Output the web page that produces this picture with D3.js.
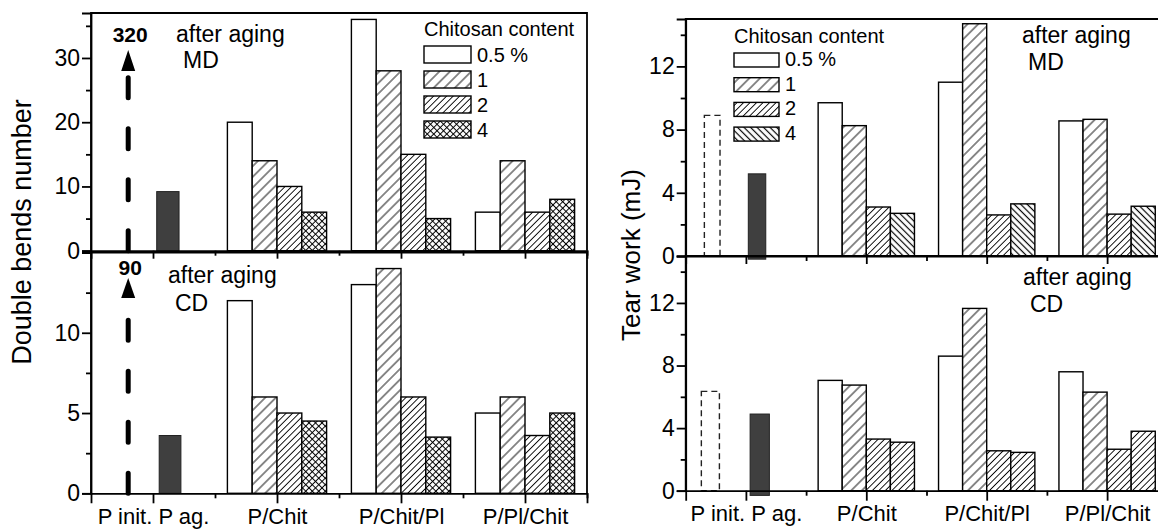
<!DOCTYPE html>
<html>
<head>
<meta charset="utf-8">
<script src="https://cdn.jsdelivr.net/npm/d3@7"></script>
<style>
  body { margin: 0; background: #fff; }
  svg { display: block; font-family: "Liberation Sans", Arial, sans-serif; }
</style>
</head>
<body>
<div id="chart"></div>
<script>
// categories
const groups = ["P/Chit", "P/Chit/Pl", "P/Pl/Chit"];
const contents = ["0.5 %", "1", "2", "4"];
const xTickLabels = ["P init. P ag.", "P/Chit", "P/Chit/Pl", "P/Pl/Chit"];

// double bends number (rows = groups, cols = chitosan content)
const bendsMD = [[20, 14, 10, 6], [36, 28, 15, 5], [6, 14, 6, 8]];
const bendsCD = [[12, 6, 5, 4.5], [13, 14, 6, 3.5], [5, 6, 3.6, 5]];
const bendsInit = [320, 90];   // off scale, drawn as arrows
const bendsAged = [9.2, 3.6];

// tear work (mJ)
const tearMD = [[9.7, 8.25, 3.1, 2.7], [11.0, 14.7, 2.6, 3.3], [8.55, 8.65, 2.65, 3.15]];
const tearCD = [[7.05, 6.75, 3.3, 3.1], [8.6, 11.65, 2.55, 2.45], [7.6, 6.3, 2.65, 3.8]];
const tearInit = [8.9, 6.35];
const tearAged = [5.2, 4.9];

const W = 1158, H = 530;
const svg = d3.select("#chart").append("svg").attr("width", W).attr("height", H);
const defs = svg.append("defs");

// hatch patterns
function hatch(id, size, angle, cross, sw) {
  const p = defs.append("pattern")
    .attr("id", id)
    .attr("patternUnits", "userSpaceOnUse")
    .attr("width", size).attr("height", size)
    .attr("patternTransform", `rotate(${angle})`);
  p.append("rect").attr("width", size).attr("height", size).attr("fill", "#fff");
  p.append("line")
    .attr("x1", size / 2).attr("y1", 0).attr("x2", size / 2).attr("y2", size)
    .attr("stroke", "#000").attr("stroke-width", sw);
  if (cross) {
    p.append("line")
      .attr("x1", 0).attr("y1", size / 2).attr("x2", size).attr("y2", size / 2)
      .attr("stroke", "#000").attr("stroke-width", sw);
  }
}
hatch("h1", 7.5, 45, false, 0.9);
hatch("h2", 4.6, 45, false, 0.9);
hatch("cross", 4.6, 45, true, 1);
hatch("back", 4.6, -45, false, 1.2);

const fillsLeft = ["#fff", "url(#h1)", "url(#h2)", "url(#cross)"];
const fillsRightMD = ["#fff", "url(#h1)", "url(#h2)", "url(#back)"];
const fillsRightCD = ["#fff", "url(#h1)", "url(#h2)", "url(#h2)"];

const AXW = 1.8;
const barW = 0.4;

function subplot(p) {
  const g = svg.append("g");
  const x = p.x, y = p.y;
  const [x0, x1] = x.range();
  const [yb, yt] = y.range();

  // frame (top + right)
  g.append("path")
    .attr("d", `M${x0},${yb}V${yt}H${x1}V${yb}`)
    .attr("fill", "none").attr("stroke", "#000").attr("stroke-width", AXW);

  // grouped bars
  p.values.forEach((row, gi) => {
    const c = 3 + gi * 2;
    g.selectAll(null)
      .data(row)
      .enter()
      .append("rect")
      .attr("x", (d, i) => x(c - 2 * barW + i * barW))
      .attr("width", x(barW) - x(0))
      .attr("y", d => y(d))
      .attr("height", d => y(0) - y(d))
      .attr("fill", (d, i) => p.fills[i])
      .attr("stroke", "#000")
      .attr("stroke-width", 1.4);
  });

  // P init (dashed outline) and P ag (dark)
  if (p.init != null) {
    g.append("rect")
      .attr("x", x(p.initPos[0])).attr("width", x(p.initPos[1]) - x(p.initPos[0]))
      .attr("y", y(p.init)).attr("height", y(0) - y(p.init))
      .attr("fill", "none").attr("stroke", "#222")
      .attr("stroke-width", 1.4).attr("stroke-dasharray", "6,4");
  }
  g.append("rect")
    .attr("x", x(p.agedPos[0])).attr("width", x(p.agedPos[1]) - x(p.agedPos[0]))
    .attr("y", y(p.aged)).attr("height", y(p.agedBase) - y(p.aged))
    .attr("fill", "#3f3f3f").attr("stroke", "#222").attr("stroke-width", 1);

  // off-scale arrow
  if (p.arrow) {
    const ax = x(p.arrow.pos);
    g.append("line")
      .attr("x1", ax).attr("x2", ax)
      .attr("y1", y(0)).attr("y2", p.arrow.base + 6)
      .attr("stroke", "#000").attr("stroke-width", 5)
      .attr("stroke-linecap", "round")
      .attr("stroke-dasharray", "20,31");
    g.append("path")
      .attr("d", `M${ax - 7},${p.arrow.base}L${ax},${p.arrow.tip}L${ax + 7},${p.arrow.base}Z`)
      .attr("fill", "#000");
    g.append("text")
      .attr("x", ax + 2).attr("y", p.arrow.labelY)
      .attr("text-anchor", "middle")
      .attr("font-weight", "bold").attr("font-size", 21)
      .text(p.arrow.label);
  }

  // y axis
  const ya = g.append("g").attr("transform", `translate(${x0},0)`)
    .call(d3.axisLeft(y).tickValues(p.yMajor).tickSize(9).tickPadding(2).tickFormat(d3.format("d")))
    .attr("font-family", null).attr("font-size", 23);
  ya.select(".domain").attr("stroke-width", AXW);
  ya.selectAll(".tick line").attr("stroke-width", AXW);
  g.append("g").attr("transform", `translate(${x0},0)`)
    .call(d3.axisLeft(y).tickValues(p.yMinor).tickSize(5).tickFormat(""))
    .call(s => s.select(".domain").remove())
    .selectAll(".tick line").attr("stroke-width", AXW);

  // x axis
  const xa = g.append("g").attr("transform", `translate(0,${y(0)})`)
    .call(d3.axisBottom(x).tickValues([1, 3, 5, 7]).tickSize(p.xLabels ? 10 : 8).tickPadding(5)
      .tickFormat((d, i) => p.xLabels ? xTickLabels[i] : ""))
    .attr("font-family", null).attr("font-size", 22);
  xa.select(".domain").attr("stroke-width", AXW);
  xa.selectAll(".tick line").attr("stroke-width", AXW);
  g.append("g").attr("transform", `translate(0,${y(0)})`)
    .call(d3.axisBottom(x).tickValues([2, 4, 6, 8]).tickSize(5).tickFormat(""))
    .call(s => s.select(".domain").remove())
    .selectAll(".tick line").attr("stroke-width", AXW);

  // annotation
  p.notes.forEach(n => {
    g.append("text").attr("x", n[1]).attr("y", n[2]).attr("font-size", 23).text(n[0]);
  });
}

function legend(lx, ly, boxW, boxH, step, fills, titleY) {
  const g = svg.append("g").attr("font-size", 20);
  g.append("text").attr("x", lx).attr("y", titleY).text("Chitosan content");
  const it = g.selectAll(null).data(contents).enter().append("g")
    .attr("transform", (d, i) => `translate(${lx},${ly + i * step})`);
  it.append("rect").attr("width", boxW).attr("height", boxH)
    .attr("fill", (d, i) => fills[i]).attr("stroke", "#000").attr("stroke-width", 1.4);
  it.append("text").attr("x", boxW + 6).attr("y", boxH - 1).text(d => d);
}

// ---------- left panel: double bends number ----------
const xL = d3.scaleLinear().domain([0, 8]).range([91, 587]);
subplot({
  x: xL, y: d3.scaleLinear().domain([0, 37]).range([250.7, 13]),
  values: bendsMD, fills: fillsLeft,
  yMajor: [0, 10, 20, 30], yMinor: [5, 15, 25, 35],
  aged: bendsAged[0], agedPos: [1.06, 1.42], agedBase: 0,
  arrow: { pos: 0.6, tip: 50, base: 71, label: bendsInit[0], labelY: 42 },
  xLabels: false,
  notes: [["after aging", 176, 42], ["MD", 183, 68]]
});
subplot({
  x: xL, y: d3.scaleLinear().domain([0, 15]).range([493.3, 252.5]),
  values: bendsCD, fills: fillsLeft,
  yMajor: [0, 5, 10], yMinor: [2.5, 7.5, 12.5],
  aged: bendsAged[1], agedPos: [1.1, 1.45], agedBase: 0,
  arrow: { pos: 0.6, tip: 278, base: 298, label: bendsInit[1], labelY: 275 },
  xLabels: true,
  notes: [["after aging", 168, 283], ["CD", 175, 311]]
});
legend(424, 46, 47, 17, 25, fillsLeft, 36);

// ---------- right panel: tear work ----------
const xR = d3.scaleLinear().domain([0, 8]).range([685.7, 1167.3]);
subplot({
  x: xR, y: d3.scaleLinear().domain([0, 15]).range([256, 19]),
  values: tearMD, fills: fillsRightMD,
  yMajor: [0, 4, 8, 12], yMinor: [2, 6, 10, 14],
  init: tearInit[0], initPos: [0.31, 0.57],
  aged: tearAged[0], agedPos: [1.04, 1.33], agedBase: -0.2,
  xLabels: false,
  notes: [["after aging", 1022, 43], ["MD", 1028, 70]]
});
subplot({
  x: xR, y: d3.scaleLinear().domain([0, 15]).range([490.7, 256]),
  values: tearCD, fills: fillsRightCD,
  yMajor: [0, 4, 8, 12], yMinor: [2, 6, 10, 14],
  init: tearInit[1], initPos: [0.26, 0.56],
  aged: tearAged[1], agedPos: [1.07, 1.39], agedBase: -0.3,
  xLabels: true,
  notes: [["after aging", 1023, 285], ["CD", 1030, 312]]
});
legend(734, 53, 45, 14, 24.7, fillsRightMD, 43);

// axis titles
svg.append("text")
  .attr("transform", "translate(31,232) rotate(-90)")
  .attr("text-anchor", "middle").attr("font-size", 27)
  .text("Double bends number");
svg.append("text")
  .attr("transform", "translate(640,255) rotate(-90)")
  .attr("text-anchor", "middle").attr("font-size", 26)
  .text("Tear work (mJ)");
</script>
</body>
</html>
